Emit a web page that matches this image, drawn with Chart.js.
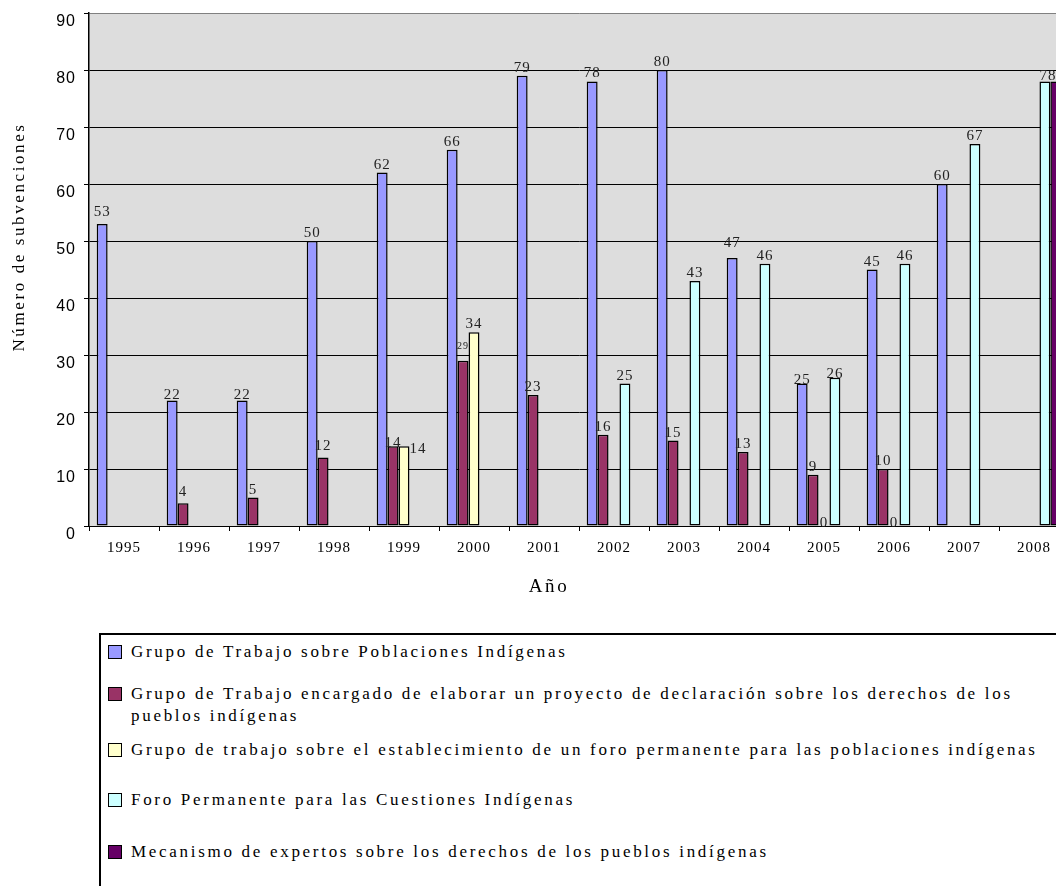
<!DOCTYPE html>
<html>
<head>
<meta charset="utf-8">
<title>Número de subvenciones por año</title>
<script src="https://cdn.jsdelivr.net/npm/chart.js@4"></script>
<style>
    html, body { margin: 0; padding: 0; background: #fff; width: 1056px; height: 886px; overflow: hidden; }
    #chart-wrap { position: absolute; left: 0; top: 0; width: 1069px; height: 620px; }
    #legend {
        position: absolute; left: 99px; top: 633px; width: 1000px; height: 300px;
        border: 2px solid #000; box-sizing: border-box;
        font-family: "Liberation Serif", LiberationSerif, Tinos, "Times New Roman", Times, "Nimbus Roman", "DejaVu Serif", serif;
        font-size: 17px; letter-spacing: 2.7px; color: #000;
    }
    .row { position: absolute; left: 0; padding-left: 30px; line-height: 22px; white-space: pre-line; }
    .swatch { position: absolute; left: 7px; top: 4px; width: 14px; height: 14px; border: 1.5px solid #000; box-sizing: border-box; }
</style>
</head>
<body>
<div id="chart-wrap"><canvas id="bar-chart"></canvas></div>
<div id="legend"></div>

<script>
// ---- data ----
const years = ['1995', '1996', '1997', '1998', '1999', '2000', '2001', '2002', '2003', '2004', '2005', '2006', '2007', '2008'];

const seriesNames = [
    'Grupo de Trabajo sobre Poblaciones Indígenas',
    'Grupo de Trabajo encargado de elaborar un proyecto de declaración sobre los derechos de los\npueblos indígenas',
    'Grupo de trabajo sobre el establecimiento de un foro permanente para las poblaciones indígenas',
    'Foro Permanente para las Cuestiones Indígenas',
    'Mecanismo de expertos sobre los derechos de los pueblos indígenas'
];
const seriesColors = ['#9999FF', '#993366', '#FFFFCC', '#CCFFFF', '#660066'];

const workingGroup     = [53, 22, 22, 50, 62, 66, 79, 78, 80, 47, 25, 45, 60, null];
const declarationGroup = [null, 4, 5, 12, 14, 29, 23, 16, 15, 13, 9, 10, null, null];
const forumGroup       = [null, null, null, null, 14, 34, null, null, null, null, 0, 0, null, null];
const permanentForum   = [null, null, null, null, null, null, null, 25, 43, 46, 26, 46, 67, 78];
const expertMechanism  = [null, null, null, null, null, null, null, null, null, null, null, null, null, 78];

const yTicks = [0, 10, 20, 30, 40, 50, 60, 70, 80, 90];
const yAxisTitle = 'Número de subvenciones';
const xAxisTitle = 'Año';

const seriesValues = [workingGroup, declarationGroup, forumGroup, permanentForum, expertMechanism];

const SERIF = '"Liberation Serif", LiberationSerif, Tinos, "Times New Roman", Times, "Nimbus Roman", "DejaVu Serif", serif';

// ---- label placement tweaks (Excel put a few of them off the usual spot) ----
const labelNudge = {
    '0:0': [0, -4], '0:1': [0, 2], '0:2': [0, 2], '0:9': [0, -7], '0:10': [0, 4],
    '1:1': [0, -3], '1:3': [0, -4], '1:4': [0, 5], '1:5': [0, -8],
    '2:4': [14, 11], '2:10': [0, 5], '2:11': [0, 5],
    '3:10': [0, 4], '3:13': [3, 3]
};
const smallLabels = { '1:5': 10 };
const hiddenLabels = { '4:13': true };   // falls outside the picture in the original

// grey plot background
const plotBackground = {
    id: 'plotBackground',
    beforeDraw(chart) {
        const { ctx, chartArea: a } = chart;
        ctx.letterSpacing = '1px';
        ctx.save();
        ctx.fillStyle = '#DDDDDD';
        ctx.fillRect(a.left, a.top, a.right - a.left, a.bottom - a.top);
        ctx.restore();
    }
};

// value labels above bars
const valueLabels = {
    id: 'valueLabels',
    afterDatasetsDraw(chart) {
        const ctx = chart.ctx;
        ctx.save();
        ctx.fillStyle = '#222';
        ctx.textAlign = 'center';
        ctx.textBaseline = 'alphabetic';
        chart.data.datasets.forEach((ds, di) => {
            chart.getDatasetMeta(di).data.forEach((bar, i) => {
                const v = ds.data[i];
                const key = di + ':' + i;
                if (v === null || v === undefined || hiddenLabels[key]) return;
                const [dx, dy] = labelNudge[key] || [0, 0];
                ctx.font = (smallLabels[key] || 15) + 'px ' + SERIF;
                ctx.fillText(String(v), bar.x + dx, bar.y - 4 + dy);
            });
        });
        ctx.restore();
    }
};

// axis titles (drawn by hand for the wide letter spacing)
const axisTitles = {
    id: 'axisTitles',
    afterDraw(chart) {
        const ctx = chart.ctx;
        ctx.save();
        ctx.letterSpacing = '2.6px';
        ctx.fillStyle = '#000';
        ctx.textAlign = 'center';
        ctx.textBaseline = 'middle';
        ctx.font = '17px ' + SERIF;
        ctx.save();
        ctx.translate(20, 237);
        ctx.rotate(-Math.PI / 2);
        ctx.fillText(yAxisTitle, 0, 0);
        ctx.restore();
        ctx.font = '19px ' + SERIF;
        ctx.fillText(xAxisTitle, 549, 587);
        ctx.restore();
    }
};

new Chart(document.getElementById('bar-chart'), {
    type: 'bar',
    data: {
        labels: years,
        datasets: seriesValues.map((data, i) => ({
            label: seriesNames[i],
            data,
            backgroundColor: seriesColors[i],
            borderColor: '#000',
            borderWidth: 1.5,
            borderSkipped: false,
            categoryPercentage: 0.78,
            barPercentage: 1
        }))
    },
    options: {
        responsive: true,
        maintainAspectRatio: false,
        animation: false,
        events: [],
        layout: { padding: { top: 13, right: 0, bottom: 0, left: 0 } },
        plugins: { legend: { display: false }, tooltip: { enabled: false } },
        scales: {
            x: {
                grid: { display: true, drawOnChartArea: false, drawTicks: true, tickLength: 5, color: '#000', offset: true },
                border: { display: false },
                ticks: { color: '#000', font: { family: SERIF, size: 15 }, padding: 8, maxRotation: 0, autoSkip: false },
                afterFit: s => { s.height = 94; }
            },
            y: {
                min: 0,
                max: 90,
                afterBuildTicks: s => { s.ticks = yTicks.map(v => ({ value: v })); },
                ticks: {
                    color: '#000',
                    font: { family: '"Liberation Sans", Arial, sans-serif', size: 16, lineHeight: 0.6 },
                    padding: 8,
                    labelOffset: 9
                },
                grid: {
                    color: c => (c.tick && c.tick.value === 90 ? '#808080' : '#000'),
                    lineWidth: 1,
                    tickLength: 5,
                    tickColor: '#000'
                },
                border: { color: '#000', width: 1.5 },
                afterFit: s => { s.width = 89; }
            }
        }
    },
    plugins: [plotBackground, valueLabels, axisTitles]
});

// ---- legend (HTML, so the long names can wrap like the original) ----
const legendRowTops = [6, 48, 104, 154, 206];
const legendEl = document.getElementById('legend');
seriesNames.forEach((name, i) => {
    const row = document.createElement('div');
    row.className = 'row';
    row.style.top = legendRowTops[i] + 'px';
    const sw = document.createElement('span');
    sw.className = 'swatch';
    sw.style.background = seriesColors[i];
    row.appendChild(sw);
    row.appendChild(document.createTextNode(name));
    legendEl.appendChild(row);
});
</script>
</body>
</html>
